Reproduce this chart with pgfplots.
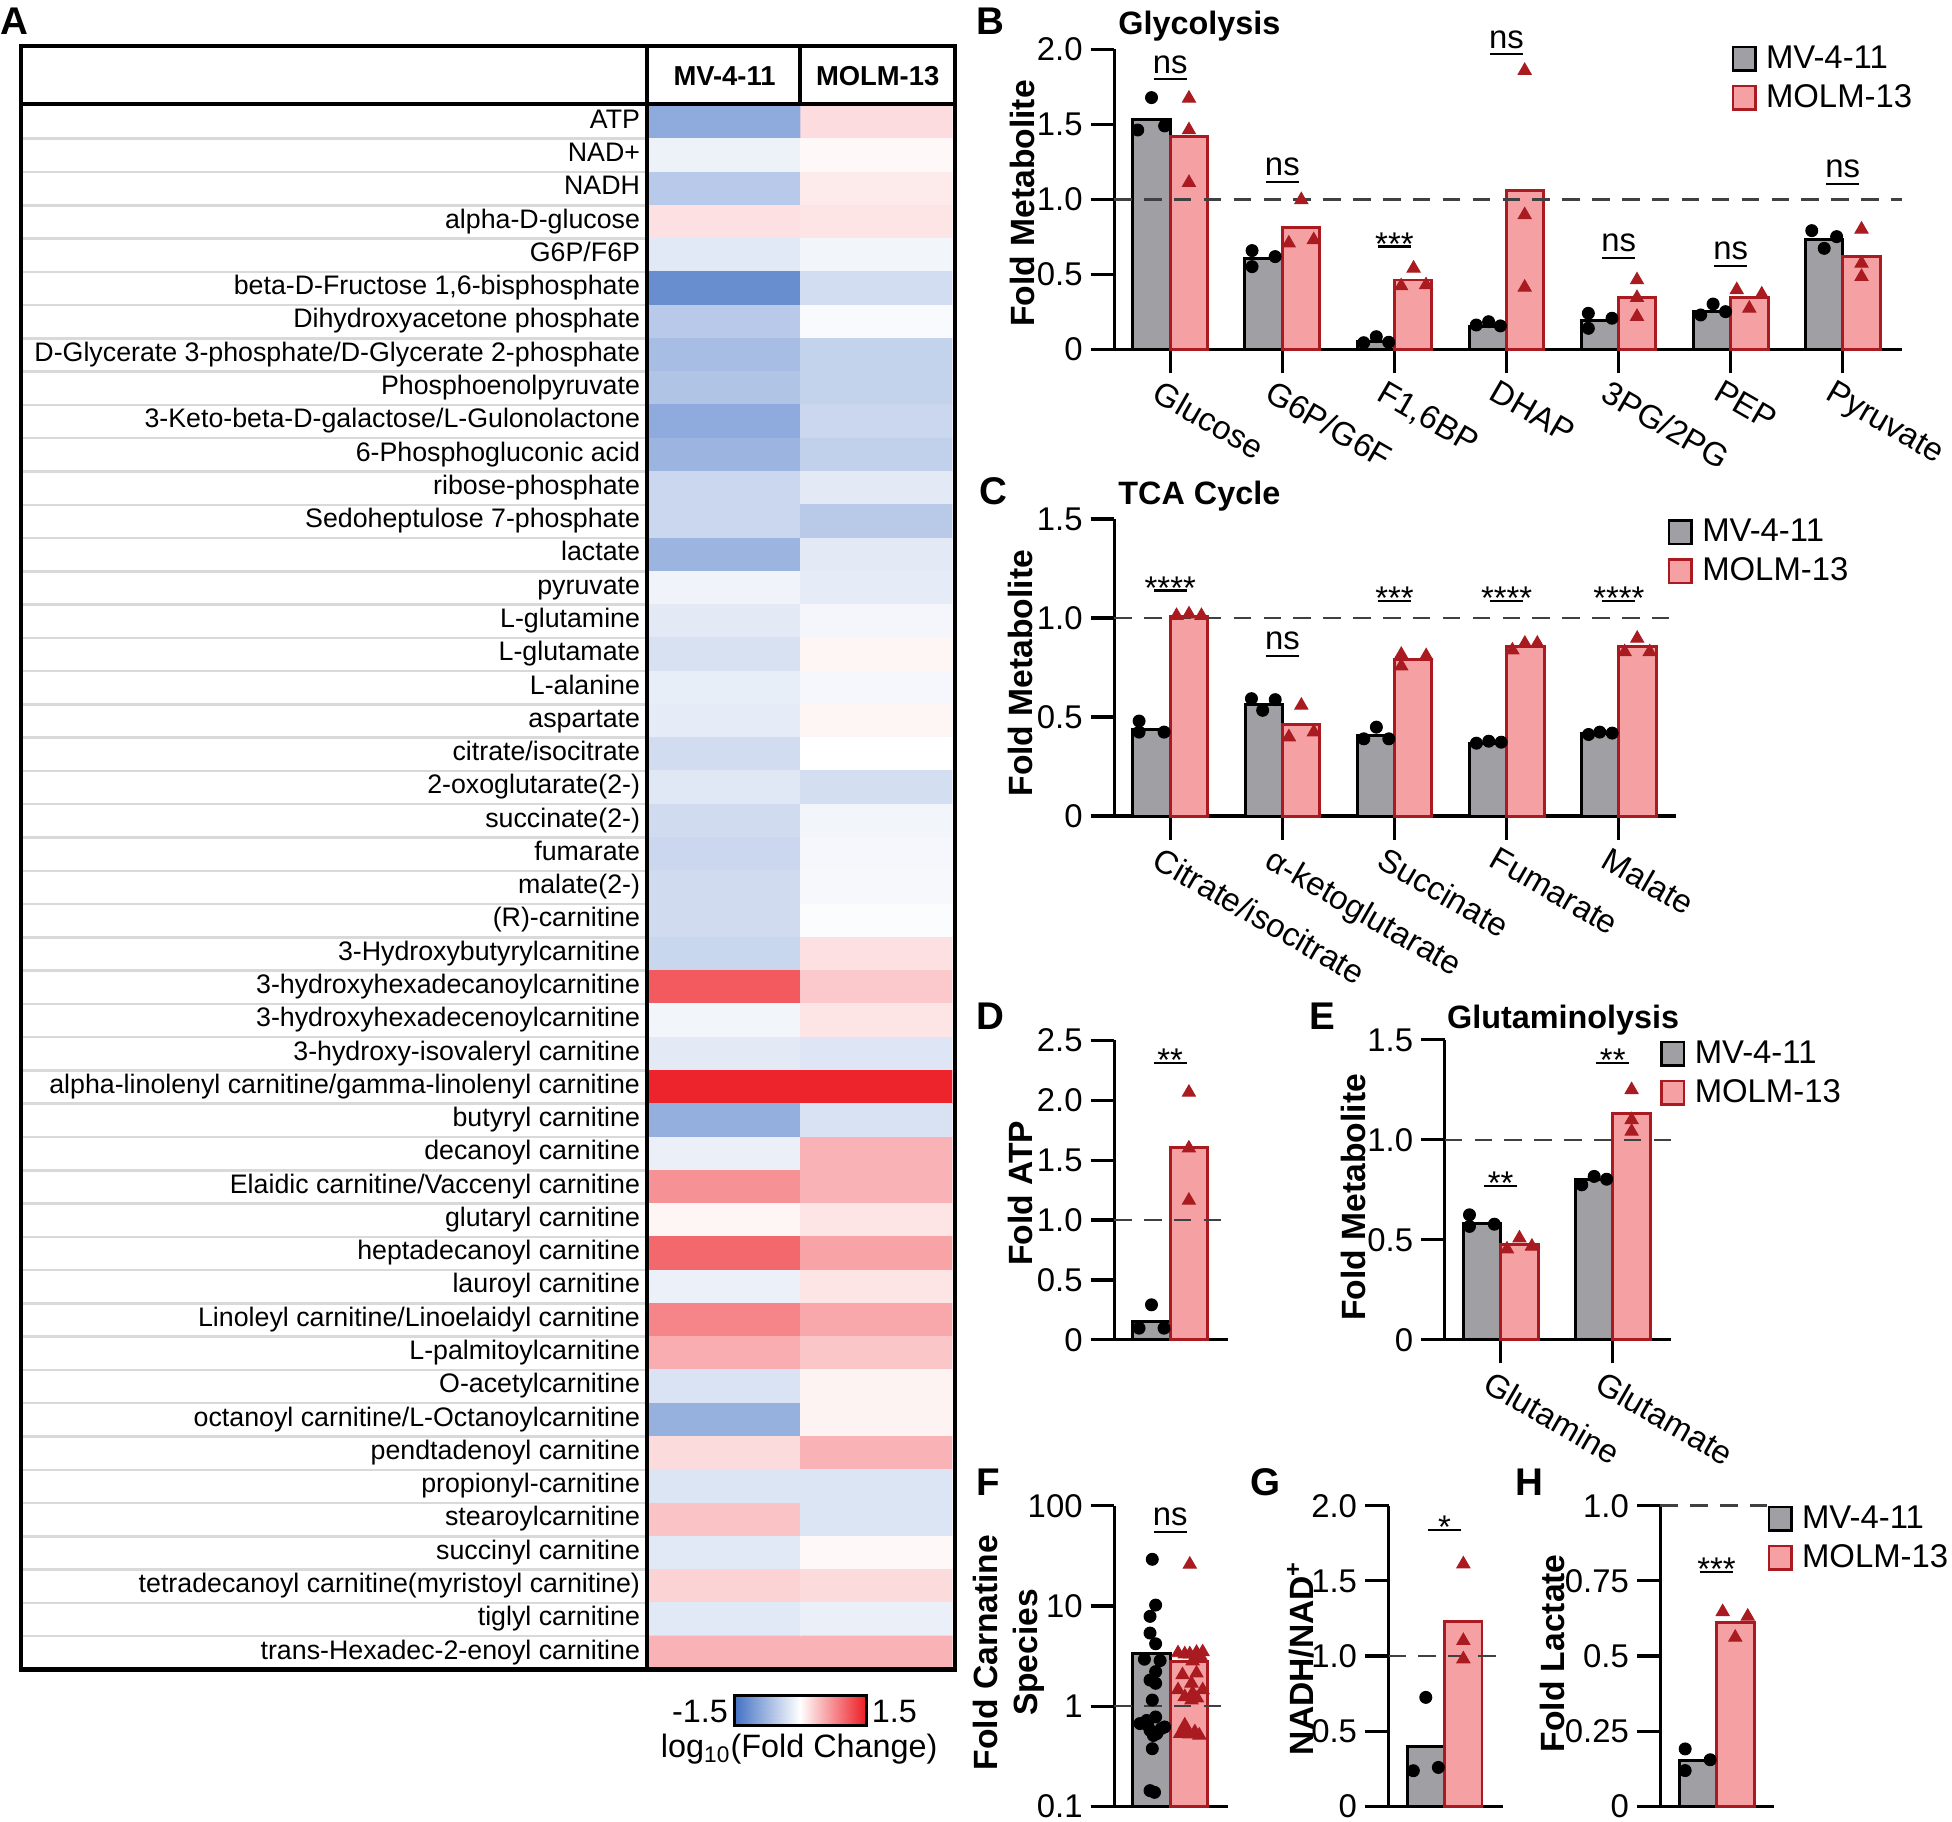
\documentclass[border=0pt]{standalone}
\usepackage{fontspec}
\setmainfont{Liberation Sans}
\usepackage{pgfplots}
\pgfplotsset{compat=1.18}
\definecolor{mvgray}{RGB}{160,160,164}
\definecolor{mrpink}{RGB}{245,161,164}
\definecolor{mrred}{RGB}{170,27,33}
\definecolor{gridgray}{RGB}{217,217,217}
\newcommand\tkfont{\fontsize{13.2}{15}\selectfont}
\newcommand\lbfont{\fontsize{13.5}{16}\selectfont\bfseries}
\newcommand\ttlfont{\fontsize{13}{15}\selectfont\bfseries}
\newcommand\letfont{\fontsize{15.5}{18}\selectfont\bfseries}
\newcommand\rowfont{\fontsize{10.75}{12}\selectfont}
\newcommand\hdfont{\fontsize{11}{13}\selectfont\bfseries}
\newcommand{\signs}[2]{\draw[line width=0.9pt] ([xshift=-6.6pt]axis cs:#1,#2) -- ([xshift=6.6pt]axis cs:#1,#2); \node[anchor=base, yshift=2.5pt, inner sep=0pt, font=\tkfont] at (axis cs:#1,#2) {ns};}
\newcommand{\sigst}[3]{\draw[line width=0.9pt] ([xshift=-6.6pt]axis cs:#1,#2) -- ([xshift=6.6pt]axis cs:#1,#2); \node[anchor=base, yshift=-3.5pt, inner sep=0pt, font=\tkfont] at (axis cs:#1,#2) {#3};}
\pgfplotsset{
  bwrmap/.style={colormap={bwr}{rgb255=(68,114,196) rgb255=(255,255,255) rgb255=(237,28,36)},
    point meta min=-1.5, point meta max=1.5},
  bp/.style={scale only axis, anchor=south west, axis x line=bottom, axis y line=left,
    axis line style={-, line width=1.3pt, black}, tick style={line width=1.3pt, black},
    major tick length=9.5pt, tick align=outside, clip=false, ymin=0, enlargelimits=false,
    tick label style={font=\tkfont}, yticklabel style={inner sep=0pt, xshift=-3pt},
    /pgf/number format/assume math mode=true,
    ylabel style={font=\lbfont, anchor=center},
    legend image code/.code={\draw[##1] (0pt,-4.75pt) rectangle (9pt,4.75pt);},
    legend cell align=left,
    legend style={draw=none, fill=none, inner sep=0pt, outer sep=0pt, anchor=north west,
      font=\tkfont, row sep=5pt, column sep=3.8pt, nodes={inner sep=0pt}}},
  xrot/.style={x tick label style={rotate=-30, anchor=north west, inner sep=0pt, xshift=-1.5pt, yshift=-3.5pt}},
  mvbar/.style={ybar, bar width=0.333, bar shift=0pt, fill=mvgray, draw=black, line width=1.2pt, forget plot},
  mrbar/.style={ybar, bar width=0.333, bar shift=0pt, fill=mrpink, draw=mrred, line width=1.2pt, forget plot},
  mvdot/.style={only marks, mark=*, mark size=2.4pt, color=black, forget plot},
  mrtri/.style={only marks, mark=triangle*, mark size=3pt, color=mrred, forget plot},
  refline/.style={dash pattern=on 7pt off 5pt, line width=1pt, color=black!75, forget plot},
}
\newcommand{\leg}{\addlegendimage{fill=mvgray, draw=black, line width=1pt}\addlegendentry{MV-4-11}
\addlegendimage{fill=mrpink, draw=mrred, line width=1pt}\addlegendentry{MOLM-13}}
\begin{document}
\begin{tikzpicture}
\path[use as bounding box] (0pt,0pt) rectangle (784pt,731.5pt);

% ---------------- Panel A: heatmap ----------------
\begin{axis}[name=tab, at={(9pt,61pt)}, anchor=south west, scale only axis, width=251pt, height=628.15pt,
  xmin=0, xmax=1, ymin=0.5, ymax=47.5, y dir=reverse, axis line style={draw=none}, xtick=\empty,
  ytick={1.5,2.5,...,46.5}, yticklabels={}, major tick length=0pt, ymajorgrids,
  grid style={gridgray, line width=1pt}]
\addplot[draw=none, forget plot] coordinates {(0.5,1)};
\end{axis}

\begin{axis}[name=hm, at={(260.75pt,61pt)}, anchor=south west, scale only axis, width=121.75pt, height=628.15pt,
  xmin=-0.5, xmax=1.5, ymin=0.5, ymax=47.5, y dir=reverse, axis line style={draw=none}, xtick=\empty,
  ytick={1,...,47}, major tick length=0pt, bwrmap,
  yticklabel style={font=\rowfont, inner sep=0pt, anchor=base east, xshift=-3.5pt, yshift=-2.5pt},
  yticklabels={{ATP},{NAD+},{NADH},{alpha-D-glucose},{G6P/F6P},{beta-D-Fructose 1,6-bisphosphate},{Dihydroxyacetone phosphate},{D-Glycerate 3-phosphate/D-Glycerate 2-phosphate},{Phosphoenolpyruvate},{3-Keto-beta-D-galactose/L-Gulonolactone},{6-Phosphogluconic acid},{ribose-phosphate},{Sedoheptulose 7-phosphate},{lactate},{pyruvate},{L-glutamine},{L-glutamate},{L-alanine},{aspartate},{citrate/isocitrate},{2-oxoglutarate(2-)},{succinate(2-)},{fumarate},{malate(2-)},{(R)-carnitine},{3-Hydroxybutyrylcarnitine},{3-hydroxyhexadecanoylcarnitine},{3-hydroxyhexadecenoylcarnitine},{3-hydroxy-isovaleryl carnitine},{alpha-linolenyl carnitine/gamma-linolenyl carnitine},{butyryl carnitine},{decanoyl carnitine},{Elaidic carnitine/Vaccenyl carnitine},{glutaryl carnitine},{heptadecanoyl carnitine},{lauroyl carnitine},{Linoleyl carnitine/Linoelaidyl carnitine},{L-palmitoylcarnitine},{O-acetylcarnitine},{octanoyl carnitine/L-Octanoylcarnitine},{pendtadenoyl carnitine},{propionyl-carnitine},{stearoylcarnitine},{succinyl carnitine},{tetradecanoyl carnitine(myristoyl carnitine)},{tiglyl carnitine},{trans-Hexadec-2-enoyl carnitine}}]
\addplot[matrix plot*, mesh/cols=2, point meta=explicit] table[x=x, y=y, meta=c] {
x y c
0 1 -0.90
1 1 0.23
0 2 -0.14
1 2 0.05
0 3 -0.57
1 3 0.14
0 4 0.20
1 4 0.17
0 5 -0.23
1 5 -0.10
0 6 -1.20
1 6 -0.36
0 7 -0.57
1 7 -0.05
0 8 -0.70
1 8 -0.47
0 9 -0.63
1 9 -0.47
0 10 -0.90
1 10 -0.42
0 11 -0.80
1 11 -0.50
0 12 -0.42
1 12 -0.22
0 13 -0.42
1 13 -0.56
0 14 -0.80
1 14 -0.22
0 15 -0.12
1 15 -0.21
0 16 -0.22
1 16 -0.09
0 17 -0.32
1 17 0.07
0 18 -0.18
1 18 -0.08
0 19 -0.20
1 19 0.07
0 20 -0.37
1 20 0.00
0 21 -0.25
1 21 -0.35
0 22 -0.38
1 22 -0.10
0 23 -0.42
1 23 -0.08
0 24 -0.38
1 24 -0.07
0 25 -0.38
1 25 -0.03
0 26 -0.44
1 26 0.20
0 27 1.09
1 27 0.36
0 28 -0.10
1 28 0.17
0 29 -0.22
1 29 -0.26
0 30 1.45
1 30 1.45
0 31 -0.86
1 31 -0.31
0 32 -0.17
1 32 0.50
0 33 0.72
1 33 0.50
0 34 0.07
1 34 0.17
0 35 1.00
1 35 0.61
0 36 -0.15
1 36 0.18
0 37 0.81
1 37 0.58
0 38 0.54
1 38 0.38
0 39 -0.30
1 39 0.08
0 40 -0.83
1 40 0.08
0 41 0.24
1 41 0.50
0 42 -0.28
1 42 -0.28
0 43 0.39
1 43 -0.28
0 44 -0.23
1 44 0.05
0 45 0.29
1 45 0.24
0 46 -0.24
1 46 -0.17
0 47 0.51
1 47 0.50
};
\end{axis}

% colour scale
\begin{axis}[at={(295pt,38.5pt)}, anchor=south west, scale only axis, width=53pt, height=12pt,
  xmin=-1.5, xmax=1.5, ymin=0, ymax=1, enlargelimits=false, xtick=\empty, ytick=\empty,
  axis on top, axis line style={line width=1pt, black}, bwrmap]
\addplot[surf, shader=interp, mesh/cols=3, point meta=x] coordinates {(-1.5,0) (0,0) (1.5,0) (-1.5,1) (0,1) (1.5,1)};
\end{axis}

% table frame
\draw[line width=1.75pt] (8.5pt,713pt) rectangle (383.5pt,61pt);
\draw[line width=1.75pt] (8.5pt,689.75pt) -- (383.5pt,689.75pt);
\draw[line width=1.5pt] (260pt,713pt) -- (260pt,61pt);
\draw[line width=1.5pt] (321.4pt,713pt) -- (321.4pt,689.75pt);
\node[font=\hdfont] at (291pt,701pt) {MV-4-11};
\node[font=\hdfont] at (352.5pt,701pt) {MOLM-13};
\node[font=\fontsize{13}{15}\selectfont, anchor=east, inner sep=0pt] at (292.5pt,44pt) {-1.5};
\node[font=\fontsize{13}{15}\selectfont, anchor=west, inner sep=0pt] at (350pt,44pt) {1.5};
\node[font=\fontsize{13}{15}\selectfont] at (321pt,29pt) {log\textsubscript{10}(Fold Change)};

% panel letters and titles
\node[font=\letfont, anchor=base west, inner sep=0pt] at (0pt,717.5pt) {A};
\node[font=\letfont, anchor=base west, inner sep=0pt] at (391.85pt,717.5pt) {B};
\node[font=\letfont, anchor=base west, inner sep=0pt] at (393pt,528.7pt) {C};
\node[font=\letfont, anchor=base west, inner sep=0pt] at (391.85pt,318.15pt) {D};
\node[font=\letfont, anchor=base west, inner sep=0pt] at (525.9pt,318.15pt) {E};
\node[font=\letfont, anchor=base west, inner sep=0pt] at (391.85pt,131pt) {F};
\node[font=\letfont, anchor=base west, inner sep=0pt] at (502pt,131pt) {G};
\node[font=\letfont, anchor=base west, inner sep=0pt] at (608.5pt,131pt) {H};
\node[font=\ttlfont, anchor=base west, inner sep=0pt] at (449pt,717.5pt) {Glycolysis};
\node[font=\ttlfont, anchor=base west, inner sep=0pt] at (449pt,528.7pt) {TCA Cycle};
\node[font=\ttlfont, anchor=base west, inner sep=0pt] at (581pt,318.5pt) {Glutaminolysis};

% ---------------- Panel B ----------------
\begin{axis}[bp, xrot, at={(447.5pt,591.2pt)}, width=316.5pt, height=120.5pt,
  xmin=-0.5, xmax=6.53, ymax=2, xtick={0,...,6},
  xticklabels={Glucose,G6P/G6F,{F1,6BP},DHAP,3PG/2PG,PEP,Pyruvate},
  ytick={0,0.5,1,1.5,2}, yticklabels={0,0.5,1.0,1.5,2.0},
  ylabel={Fold Metabolite}, ylabel style={at={(axis description cs:-0.1164,0.486)}},
  legend style={at={(0.7836,1.012)}}]
\addplot[mvbar] coordinates {(-0.1667,1.533) (0.8333,0.607) (1.8333,0.05) (2.8333,0.15) (3.8333,0.191) (4.8333,0.251) (5.8333,0.733)};
\addplot[mrbar] coordinates {(0.1667,1.418) (1.1667,0.811) (2.1667,0.462) (3.1667,1.056) (4.1667,0.344) (5.1667,0.343) (6.1667,0.618)};
\addplot[refline] coordinates {(-0.5,1) (6.53,1)};
\addplot[mvdot] coordinates {(-0.167,1.678) (-0.29,1.462) (-0.05,1.489) (0.73,0.658) (0.73,0.551) (0.936,0.618) (1.726,0.044) (1.838,0.084) (1.949,0.047) (2.73,0.162) (2.84,0.184) (2.945,0.156) (3.73,0.24) (3.73,0.14) (3.941,0.207) (4.732,0.229) (4.843,0.302) (4.954,0.251) (5.723,0.791) (5.834,0.673) (5.945,0.751)};
\addplot[mrtri] coordinates {(0.167,1.673) (0.167,1.462) (0.167,1.111) (1.169,0.996) (1.058,0.707) (1.28,0.729) (2.171,0.54) (2.06,0.422) (2.282,0.429) (3.162,1.858) (3.162,0.896) (3.162,0.413) (4.164,0.462) (4.164,0.344) (4.164,0.218) (5.054,0.396) (5.166,0.273) (5.277,0.367) (6.167,0.8) (6.167,0.573) (6.167,0.484)};
\signs{0}{1.80} \signs{1}{1.117} \sigst{2}{0.686}{***} \signs{3}{1.967} \signs{4}{0.611} \signs{5}{0.556} \signs{6}{1.102}
\leg
\end{axis}

% ---------------- Panel C ----------------
\begin{axis}[bp, xrot, at={(447.5pt,403.75pt)}, width=225.65pt, height=119.25pt,
  xmin=-0.5, xmax=4.51, ymax=1.5, xtick={0,...,4},
  xticklabels={Citrate/isocitrate,α-ketoglutarate,Succinate,Fumarate,Malate},
  ytick={0,0.5,1,1.5}, yticklabels={0,0.5,1.0,1.5},
  ylabel={Fold Metabolite}, ylabel style={at={(axis description cs:-0.166,0.481)}},
  legend style={at={(0.9856,1.0)}}]
\addplot[mvbar] coordinates {(-0.1667,0.439) (0.8333,0.5625) (1.8333,0.407) (2.8333,0.365) (3.8333,0.415)};
\addplot[mrbar] coordinates {(0.1667,1.01) (1.1667,0.463) (2.1667,0.79) (3.1667,0.858) (4.1667,0.855)};
\addplot[refline] coordinates {(-0.5,1) (4.51,1)};
\addplot[mvdot] coordinates {(-0.278,0.48) (-0.278,0.424) (-0.055,0.424) (0.724,0.593) (0.824,0.534) (0.936,0.588) (1.838,0.449) (1.726,0.39) (1.949,0.39) (2.73,0.368) (2.84,0.378) (2.951,0.373) (3.73,0.412) (3.83,0.424) (3.941,0.419)};
\addplot[mrtri] coordinates {(0.056,1.012) (0.167,1.02) (0.278,1.012) (1.169,0.559) (1.058,0.399) (1.28,0.424) (2.06,0.816) (2.06,0.757) (2.282,0.809) (3.051,0.838) (3.162,0.872) (3.273,0.872) (4.052,0.829) (4.164,0.897) (4.275,0.829)};
\sigst{0}{1.139}{****} \signs{1}{0.81} \sigst{2}{1.087}{***} \sigst{3}{1.087}{****} \sigst{4}{1.087}{****}
\leg
\end{axis}

% ---------------- Panel D ----------------
\begin{axis}[bp, at={(447.5pt,193.4pt)}, width=45.8pt, height=120.2pt,
  xmin=-0.5, xmax=0.518, ymax=2.5, xtick=\empty,
  ytick={0,0.5,1,1.5,2,2.5}, yticklabels={0,0.5,1.0,1.5,2.0,2.5},
  ylabel={Fold ATP}, ylabel style={at={(axis description cs:-0.819,0.49)}}]
\addplot[mvbar] coordinates {(-0.1667,0.153)};
\addplot[mrbar] coordinates {(0.1667,1.609)};
\addplot[refline] coordinates {(-0.5,1) (0.518,1)};
\addplot[mvdot] coordinates {(-0.167,0.292) (-0.278,0.097) (-0.055,0.097)};
\addplot[mrtri] coordinates {(0.167,2.066) (0.167,1.60) (0.167,1.164)};
\sigst{0}{2.31}{**}
\end{axis}

% ---------------- Panel E ----------------
\begin{axis}[bp, xrot, at={(580.25pt,193.4pt)}, width=90.9pt, height=120.45pt,
  xmin=-0.5, xmax=1.52, ymax=1.5, xtick={0,1}, xticklabels={Glutamine,Glutamate},
  ytick={0,0.5,1,1.5}, yticklabels={0,0.5,1.0,1.5},
  ylabel={Fold Metabolite}, ylabel style={at={(axis description cs:-0.4026,0.475)}},
  legend style={at={(0.953,0.998)}}]
\addplot[mvbar] coordinates {(-0.1667,0.583) (0.8333,0.80)};
\addplot[mrbar] coordinates {(0.1667,0.475) (1.1667,1.13)};
\addplot[refline] coordinates {(-0.5,1) (1.52,1)};
\addplot[mvdot] coordinates {(-0.279,0.625) (-0.279,0.567) (-0.057,0.578) (0.723,0.775) (0.834,0.817) (0.945,0.803)};
\addplot[mrtri] coordinates {(0.167,0.508) (0.056,0.453) (0.278,0.467) (1.168,1.25) (1.168,1.1) (1.168,1.042)};
\sigst{0}{0.77}{**} \sigst{1}{1.383}{**}
\leg
\end{axis}

% ---------------- Panel F ----------------
\begin{axis}[bp, at={(447.5pt,6pt)}, width=45.8pt, height=120.75pt,
  xmin=-0.5, xmax=0.518, ymode=log, ymin=0.1, ymax=100, log origin=infty, yminorticks=false,
  xtick=\empty, ytick={0.1,1,10,100}, yticklabels={0.1,1,10,100},
  ylabel={Fold Carnatine\\Species}, ylabel style={align=center, at={(axis description cs:-0.922,0.512)}}]
\addplot[mvbar] coordinates {(-0.1667,3.32)};
\addplot[mrbar] coordinates {(0.1667,2.76)};
\addplot[refline] coordinates {(-0.5,1) (0.518,1)};
\addplot[mvdot] coordinates {(-0.16,29.2) (-0.13,10.2) (-0.18,7.87) (-0.18,5.36) (-0.13,4.19) (-0.23,2.94) (-0.09,2.85) (-0.13,2.21) (-0.18,1.82) (-0.13,1.69) (-0.16,1.15) (-0.13,0.78) (-0.21,0.72) (-0.27,0.67) (-0.2,0.644) (-0.05,0.62) (-0.08,0.597) (-0.18,0.574) (-0.12,0.532) (-0.15,0.51) (-0.16,0.376) (-0.18,0.1435) (-0.14,0.138)};
\addplot[mrtri] coordinates {(0.175,26.0) (0.07,3.39) (0.13,3.31) (0.175,3.31) (0.235,3.43) (0.29,3.47) (0.27,3.16) (0.11,2.05) (0.235,2.13) (0.19,1.69) (0.07,1.45) (0.29,1.45) (0.13,1.24) (0.19,1.15) (0.2,1.35) (0.13,0.645) (0.09,0.532) (0.22,0.552) (0.26,0.512) (0.17,0.525) (0.2,2.82) (0.24,1.2) (0.12,0.575)};
\signs{0}{54.5}
\end{axis}

% ---------------- Panel G ----------------
\begin{axis}[bp, at={(557.7pt,6pt)}, width=45.8pt, height=120.75pt,
  xmin=-0.5, xmax=0.517, ymax=2, xtick=\empty,
  ytick={0,0.5,1,1.5,2}, yticklabels={0,0.5,1.0,1.5,2.0},
  ylabel={NADH/NAD\textsuperscript{+}}, ylabel style={at={(axis description cs:-0.769,0.493)}}]
\addplot[mvbar] coordinates {(-0.1667,0.399)};
\addplot[mrbar] coordinates {(0.1667,1.228)};
\addplot[refline] coordinates {(-0.5,1) (0.517,1)};
\addplot[mvdot] coordinates {(-0.168,0.725) (-0.279,0.237) (-0.056,0.259)};
\addplot[mrtri] coordinates {(0.167,1.612) (0.167,1.102) (0.167,0.98)};
\sigst{0}{1.84}{*}
\end{axis}

% ---------------- Panel H ----------------
\begin{axis}[bp, at={(666.9pt,6pt)}, width=45.6pt, height=120.75pt,
  xmin=-0.5, xmax=0.511, ymax=1, xtick=\empty,
  ytick={0,0.25,0.5,0.75,1}, yticklabels={0,0.25,0.5,0.75,1.0},
  ylabel={Fold Lactate}, ylabel style={at={(axis description cs:-0.952,0.509)}},
  legend style={at={(0.945,1.0)}}]
\addplot[mvbar] coordinates {(-0.1667,0.152)};
\addplot[mrbar] coordinates {(0.1667,0.61)};
\addplot[refline] coordinates {(-0.5,1) (0.45,1)};
\addplot[mvdot] coordinates {(-0.28,0.191) (-0.28,0.119) (-0.057,0.155)};
\addplot[mrtri] coordinates {(0.054,0.647) (0.166,0.562) (0.277,0.632)};
\sigst{0}{0.78}{***}
\leg
\end{axis}
\end{tikzpicture}
\end{document}
